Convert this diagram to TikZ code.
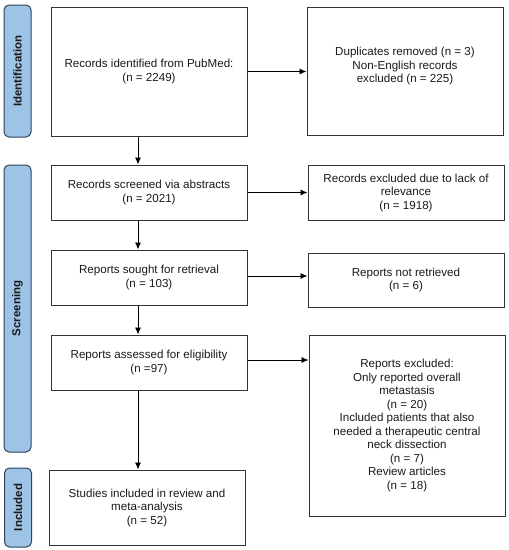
\documentclass[tikz,border=0pt]{standalone}
\usepackage{fontspec}
\setmainfont{Liberation Sans}
\usetikzlibrary{arrows.meta}
\definecolor{sidefill}{HTML}{9DC3E6}
\definecolor{sidedraw}{HTML}{2F4359}
\definecolor{boxdraw}{HTML}{333333}
\definecolor{txt}{HTML}{1A1A1A}
\begin{document}
\begin{tikzpicture}[x=1pt,y=-1pt,
  box/.style={draw=boxdraw, line width=1pt, fill=white, text=txt, align=center,
    minimum width=196pt, inner sep=2pt,
    font=\fontsize{11.6}{13.5}\selectfont},
  side/.style={draw=sidedraw, line width=1pt, fill=sidefill, rounded corners=5pt,
    rotate=90, minimum height=27pt, inner sep=0pt, text=txt,
    font=\fontsize{11.5}{13.5}\selectfont\bfseries},
  arr/.style={draw=black, line width=0.9pt, -{Latex[length=7pt,width=6pt]}}]
\useasboundingbox (0,0) rectangle (509,550);
% side bars
\node[side, minimum width=132pt] (s1) at (17.5,71) {Identification};
\node[side, minimum width=287pt] (s2) at (17.5,308.5) {Screening};
\node[side, minimum width=79pt] (s3) at (18,507.5) {Included};
% boxes
\node[box, minimum height=129pt] (b1) at (149,71.5) {Records identified from PubMed:\\(n = 2249)};
\node[box, minimum height=128pt] (b2) at (405,71) {Duplicates removed (n = 3)\\Non-English records\\excluded (n = 225)\\[-1.5pt]};
\node[box, minimum height=55pt] (b3) at (149,192.5) {Records screened via abstracts\\(n = 2021)};
\node[box, minimum height=55pt] (b4) at (406,192.5) {Records excluded due to lack of\\relevance\\(n = 1918)};
\node[box, minimum height=55pt] (b5) at (149,277.5) {Reports sought for retrieval\\(n = 103)};
\node[box, minimum height=54pt] (b6) at (406,280) {Reports not retrieved\\(n = 6)};
\node[box, minimum height=55pt] (b7) at (149,362.5) {Reports assessed for eligibility\\(n =97)};
\node[box, minimum height=181pt] (b8) at (407,425.5) {Reports excluded:\\Only reported overall\\metastasis\\(n = 20)\\Included patients that also\\needed a therapeutic central\\neck dissection\\(n = 7)\\Review articles\\(n = 18)};
\node[box, minimum height=75pt] (b9) at (147,507.5) {Studies included in review and\\meta-analysis\\(n = 52)};
% arrow axis
\coordinate (ax) at (138,0);
\draw[arr] (b1.south -| ax) -- (b3.north -| ax);
\draw[arr] (b3.south -| ax) -- (b5.north -| ax);
\draw[arr] (b5.south -| ax) -- (b7.north -| ax);
\draw[arr] (b7.south -| ax) -- (b9.north -| ax);
\draw[arr] (b1.east) -- (b1.east -| b2.west);
\draw[arr] (b3.east) -- (b3.east -| b4.west);
\draw[arr] ([yshift=1.5pt]b5.east) -- ([yshift=1.5pt]b5.east -| b6.west);
\draw[arr] ([yshift=2.5pt]b7.east) -- ([yshift=2.5pt]b7.east -| b8.west);
\end{tikzpicture}
\end{document}
